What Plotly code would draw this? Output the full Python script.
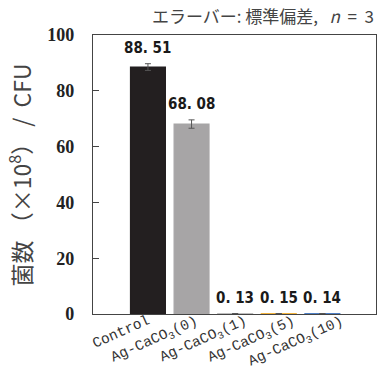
import plotly.graph_objects as go

# Bacterial counts per sample (x10^8 CFU), mean with standard deviation (n = 3)
categories = ["Control", "Ag-CaCO<sub>3</sub>(0)", "Ag-CaCO<sub>3</sub>(1)",
              "Ag-CaCO<sub>3</sub>(5)", "Ag-CaCO<sub>3</sub>(10)"]
means = [88.51, 68.08, 0.13, 0.15, 0.14]
std_devs = [1.2, 1.5, 0.02, 0.02, 0.02]
bar_colors = ["#231f20", "#a7a5a6", "#bdbdbd", "#f2b33d", "#4f7fc4"]
y_ticks = [0, 20, 40, 60, 80, 100]

fig = go.Figure()
fig.add_trace(go.Bar(
    x=list(range(len(categories))),
    y=means,
    width=0.8,
    marker=dict(color=bar_colors, line=dict(width=1.2, color=bar_colors)),
    error_y=dict(type="data", array=std_devs, visible=True,
                 color="#555555", thickness=1, width=3),
    hoverinfo="skip",
))

# Value labels above each bar
for i, (m, s) in enumerate(zip(means, std_devs)):
    fig.add_annotation(
        x=i, y=m + s, xref="x", yref="y",
        text=f"{m:.2f}".replace(".", ".\u00a0"),
        showarrow=False, yanchor="bottom", yshift=5,
        font=dict(family="DejaVu Sans Condensed, DejaVu Sans, sans-serif",
                  size=15, color="#1a1a1a", weight="bold"),
    )

# Slanted category labels under the axis, fanning slightly to the right
for i, name in enumerate(categories):
    fig.add_annotation(
        x=i, y=0, xref="x", yref="paper",
        text=name, textangle=-24,
        showarrow=False, xanchor="right", yanchor="top",
        xshift=7 + 5 * i, yshift=4,
        font=dict(family="Liberation Mono, monospace", size=14.5, color="#333333"),
    )

# Note on error bars
fig.add_annotation(
    x=1.0, y=1.0, xref="paper", yref="paper",
    xanchor="right", yanchor="bottom", yshift=5,
    text="エラーバー: 標準偏差,\u00a0\u00a0\u00a0<i>n</i>\u00a0\u00a0=\u00a0\u00a03",
    showarrow=False,
    font=dict(family="Noto Sans CJK JP, sans-serif", size=17, color="#444444"),
)

# Y axis title
fig.add_annotation(
    x=-0.258, y=0.5, xref="paper", yref="paper",
    xanchor="center", yanchor="middle", textangle=-90,
    text="菌数\u00a0（×10<sup>8</sup>）\u00a0/\u00a0\u00a0CFU",
    showarrow=False,
    font=dict(family="Noto Sans CJK JP, sans-serif", size=23, color="#444444"),
)

fig.update_layout(
    width=380, height=372,
    margin=dict(l=93, r=4, t=35, b=58, autoexpand=False),
    paper_bgcolor="white", plot_bgcolor="white",
    showlegend=False,
    xaxis=dict(
        tickmode="array", tickvals=list(range(len(categories))),
        showticklabels=False, layer="below traces",
        range=[-1.26, 5.23], showgrid=False, zeroline=False,
        showline=True, linecolor="#444444", linewidth=1.2, mirror=True,
        ticks="", automargin=False,
    ),
    yaxis=dict(
        range=[0, 100], tickvals=y_ticks, showgrid=False, zeroline=False,
        showline=True, linecolor="#444444", linewidth=1.2, mirror=True,
        ticks="inside", ticklen=6, tickcolor="#444444", automargin=False,
        ticklabelstandoff=14, layer="below traces",
        tickfont=dict(family="Liberation Serif, serif", size=18, color="#222222",
                      weight="bold"),
    ),
)

fig.write_html("out.html")
